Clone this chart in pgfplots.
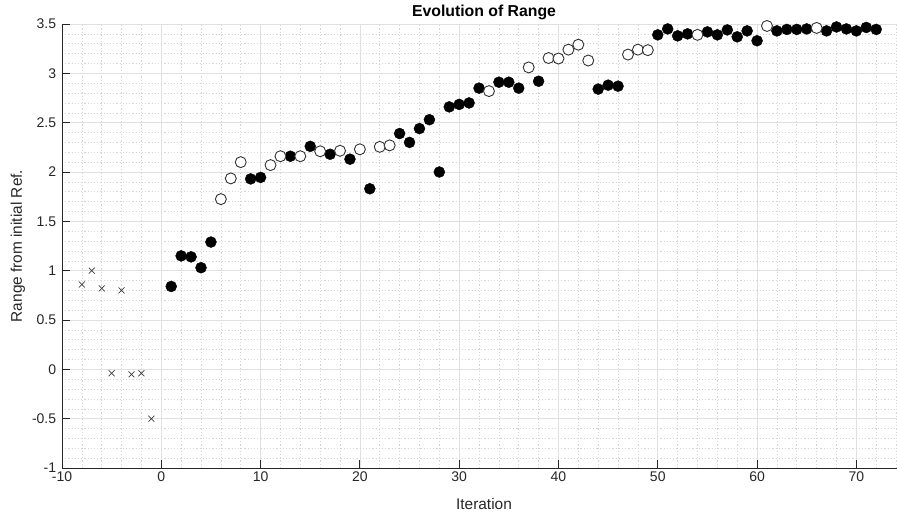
\documentclass[border=0pt]{standalone}
\usepackage{fontspec}
\setmainfont{Liberation Sans}
\usepackage{pgfplots}
\pgfplotsset{compat=1.18}

\definecolor{clrAxis}{HTML}{262626}
\definecolor{clrGrid}{HTML}{E0E0E0}
\definecolor{clrMinor}{HTML}{D6D6D6}
\definecolor{clrEdge}{HTML}{333333}

\begin{document}
\begin{tikzpicture}
    % page = 897 x 515 (1px = 1pt); axis box starts 62pt from left, 47pt from bottom
    \useasboundingbox (-62pt,-47pt) rectangle (835pt,468pt);
    \begin{axis}[
        scale only axis,
        width=844pt, height=444pt,
        xmin=-10, xmax=75,
        ymin=-1, ymax=3.5,
        xtick={-10,0,...,70},
        ytick={-1,-0.5,...,3.5},
        minor xtick={-8,-6,...,74},
        minor ytick={-0.9,-0.8,...,3.45},
        grid=both,
        major grid style={draw=clrGrid, line width=0.7pt},
        minor grid style={draw=clrMinor, line width=0.6pt, dash pattern=on 1.2pt off 2pt},
        axis x line*=bottom, axis y line*=left,
        axis line style={draw=clrAxis, line width=0.8pt, -},
        tick style={draw=clrAxis, line width=0.8pt},
        major tick length=8pt, minor tick length=0pt,
        tick align=inside,
        /pgf/number format/assume math mode=true,
        /pgf/number format/fixed,
        ticklabel style={font=\fontsize{14}{16}\selectfont, text=clrAxis},
        xticklabel style={yshift=0.3pt},
        yticklabel style={xshift=-2.3pt},
        xlabel={Iteration},
        ylabel={Range from initial Ref.},
        xlabel style={at={(axis description cs:0.5,0)}, anchor=base, yshift=-41pt,
            font=\fontsize{15.4}{17}\selectfont, text=clrAxis},
        ylabel style={at={(axis description cs:-0.0474,0.5)}, anchor=base, rotate=0,
            font=\fontsize{15.4}{17}\selectfont, text=clrAxis},
        title={Evolution of Range},
        every axis title shift=0pt,
        title style={at={(axis description cs:0.5,1)}, anchor=base, yshift=7.3pt,
            font=\fontsize{15.8}{18}\selectfont\bfseries},
        clip=false,
    ]
    % reference points before iteration 0
    \addplot[only marks, mark=x, mark size=4.2pt, draw=black!75, mark options={line width=0.7pt}]
        coordinates {(-8,0.86) (-7,1.00) (-6,0.82) (-5,-0.04) (-4,0.80) (-3,-0.05) (-2,-0.04) (-1,-0.50)};
    % filled markers
    \addplot[only marks, mark=*, mark size=5.5pt, mark options={fill=black, draw=black}]
        coordinates {
        (1,0.84) (2,1.15) (3,1.14) (4,1.03) (5,1.29) (9,1.93) (10,1.945) (13,2.16)
        (15,2.26) (17,2.18) (19,2.13) (21,1.83) (24,2.39) (25,2.30) (26,2.44) (27,2.53)
        (28,2.00) (29,2.66) (30,2.685) (31,2.70) (32,2.85) (34,2.91) (35,2.91) (36,2.85)
        (38,2.92) (44,2.84) (45,2.88) (46,2.87) (50,3.39) (51,3.45) (52,3.38) (53,3.40)
        (55,3.42) (56,3.39) (57,3.44) (58,3.37) (59,3.43) (60,3.33) (62,3.43) (63,3.445)
        (64,3.445) (65,3.45) (67,3.43) (68,3.47) (69,3.45) (70,3.43) (71,3.465) (72,3.445)};
    % open markers
    \addplot[only marks, mark=*, mark size=5.5pt, mark options={fill=white, draw=clrEdge, line width=0.9pt}]
        coordinates {
        (6,1.725) (7,1.935) (8,2.10) (11,2.07) (12,2.16) (14,2.16) (16,2.21) (18,2.215)
        (20,2.23) (22,2.255) (23,2.27) (33,2.82) (37,3.06) (39,3.155) (40,3.15) (41,3.24)
        (42,3.29) (43,3.13) (47,3.19) (48,3.24) (49,3.235) (54,3.39) (61,3.48) (66,3.46)};
    \end{axis}
\end{tikzpicture}
\end{document}
